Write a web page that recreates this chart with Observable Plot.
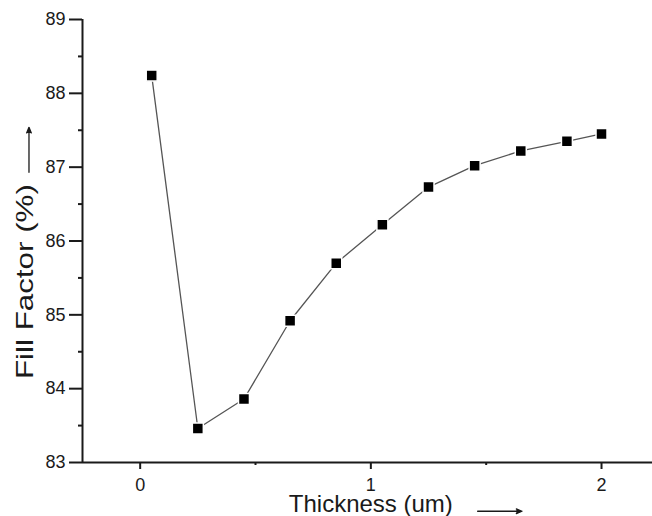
<!DOCTYPE html>
<html>
<head>
<meta charset="utf-8">
<script src="https://cdn.jsdelivr.net/npm/d3@7"></script>
<script src="https://cdn.jsdelivr.net/npm/@observablehq/plot@0.6"></script>
<style>
  html, body { margin: 0; padding: 0; background: #fff; }
  #chart svg { display: block; font-family: "Liberation Sans", Arial, sans-serif; }
</style>
</head>
<body>
<div id="chart"></div>
<script>
// Fill factor versus layer thickness
const thickness = [0.05, 0.25, 0.45, 0.65, 0.85, 1.05, 1.25, 1.45, 1.65, 1.85, 2.0];
const fillFactor = [88.24, 83.46, 83.86, 84.92, 85.70, 86.22, 86.73, 87.02, 87.22, 87.35, 87.45];

const xMajorTicks = [0, 1, 2];
const xMinorTicks = [0.5, 1.5];
const yMajorTicks = [83, 84, 85, 86, 87, 88, 89];
const yMinorTicks = [83.5, 84.5, 85.5, 86.5, 87.5, 88.5];

const xLabel = "Thickness (um)";
const yLabel = "Fill Factor (%)";

const points = thickness.map((t, i) => ({thickness: t, fill: fillFactor[i]}));

const xDomain = [-0.25, 2.221];
const yDomain = [83, 89];

const ink = "#1a1a1a";

const chart = Plot.plot({
  width: 652,
  height: 516,
  marginLeft: 82,
  marginRight: 0,
  marginTop: 19,
  marginBottom: 54,
  style: {fontFamily: "'Liberation Sans', Arial, sans-serif", color: ink, background: "#fff"},
  x: {domain: xDomain},
  y: {domain: yDomain},
  marks: [
    // axes frame lines
    Plot.ruleY([yDomain[0]], {stroke: ink, strokeWidth: 2}),
    Plot.ruleX([xDomain[0]], {stroke: ink, strokeWidth: 2}),
    // x axis ticks and labels
    Plot.axisX(xMajorTicks, {tickSize: 7, tickPadding: 9, fontSize: 18, strokeWidth: 2, label: null, tickFormat: d => String(d)}),
    Plot.axisX(xMinorTicks, {tickSize: 3, strokeWidth: 2, label: null, tickFormat: () => ""}),
    // y axis ticks and labels
    Plot.axisY(yMajorTicks, {tickSize: 13, tickPadding: 4, fontSize: 18, strokeWidth: 2, label: null, tickFormat: d => String(d)}),
    Plot.axisY(yMinorTicks, {tickSize: 4, strokeWidth: 2, label: null, tickFormat: () => ""}),
    // axis titles
    Plot.text([xLabel], {x: 1, frameAnchor: "bottom", dy: 49, fontSize: 24, fill: ink, text: d => d}),
    Plot.text([yLabel], {y: 85.45, frameAnchor: "left", dx: -57, rotate: -90, textAnchor: "middle", fontSize: 24, fill: ink, text: d => d, className: "ylabel"}),
    // direction arrows beside the titles
    Plot.arrow([{x1: 1.463, x2: 1.655, y1: 82.34, y2: 82.34}], {
      x1: "x1", x2: "x2", y1: "y1", y2: "y2",
      stroke: ink, fill: ink, strokeWidth: 1.3, headLength: 7, headAngle: 45, clip: false
    }),
    Plot.arrow([{x1: -0.482, x2: -0.482, y1: 86.93, y2: 87.54}], {
      x1: "x1", x2: "x2", y1: "y1", y2: "y2",
      stroke: ink, fill: ink, strokeWidth: 1.3, headLength: 7, headAngle: 45, clip: false
    }),
    // data
    Plot.line(points, {x: "thickness", y: "fill", stroke: "#555", strokeWidth: 1.3}),
    Plot.dot(points, {x: "thickness", y: "fill", symbol: "square", r: 6.2, fill: "#000", stroke: "#fff", strokeWidth: 1.5})
  ]
});

// the vertical title is drawn elongated along its axis
d3.select(chart).selectAll(".ylabel text")
  .attr("textLength", 195)
  .attr("lengthAdjust", "spacingAndGlyphs");

document.getElementById("chart").appendChild(chart);
</script>
</body>
</html>
